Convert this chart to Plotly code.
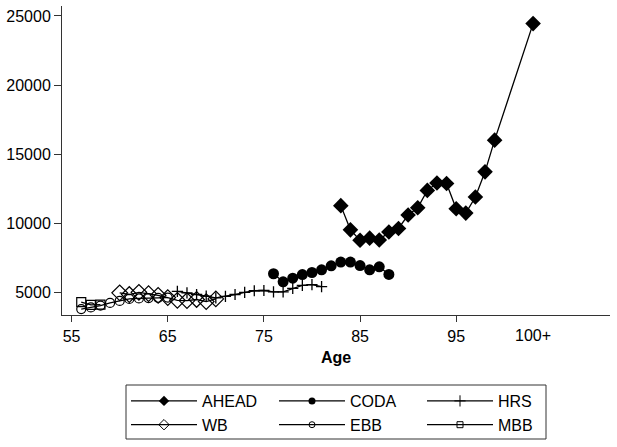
import plotly.graph_objects as go

# ---- data ----
ahead_age = [83, 84, 85, 86, 87, 88, 89, 90, 91, 92, 93, 94, 95, 96, 97, 98, 99, 103]
ahead_val = [11300, 9550, 8800, 8950, 8820, 9400, 9650, 10620, 11150, 12400, 12930, 12900,
             11080, 10760, 11920, 13740, 16030, 24450]

coda_age = [76, 77, 78, 79, 80, 81, 82, 83, 84, 85, 86, 87, 88]
coda_val = [6380, 5800, 6060, 6320, 6470, 6660, 6950, 7220, 7220, 6970, 6660, 6880, 6330]

hrs_age = [66, 67, 68, 69, 70, 71, 72, 73, 74, 75, 76, 77, 78, 79, 80, 81]
hrs_val = [5100, 5000, 4880, 4760, 4640, 4740, 4880, 5040, 5150, 5170, 5070, 5070, 5330, 5540, 5600, 5450]

wb_age = [60, 61, 62, 63, 64, 65, 66, 67, 68, 69, 70]
wb_val = [5000, 4880, 5040, 4940, 4820, 4660, 4460, 4440, 4520, 4370, 4560]

ebb_age = [56, 57, 58, 59, 60, 61, 62, 63, 64, 65]
ebb_val = [3830, 3950, 4080, 4270, 4420, 4560, 4600, 4620, 4640, 4660]

mbb_age = [56, 57, 58]
mbb_val = [4330, 4130, 4150]

x_tickvals = [55, 65, 75, 85, 95]
x_ticktext = ["55", "65", "75", "85", "95"]
top_age_pos = 103
top_age_label = "100+"
y_tickvals = [5000, 10000, 15000, 20000, 25000]
y_ticktext = ["5000", "10000", "15000", "20000", "25000"]

FONT = "Liberation Sans, Arial, Helvetica, sans-serif"

series = [
    ("AHEAD", ahead_age, ahead_val, dict(symbol="diamond", size=12), 8),
    ("CODA", coda_age, coda_val, dict(symbol="circle", size=11), 7),
    ("HRS", hrs_age, hrs_val, dict(symbol="cross-thin", size=8, line=dict(color="black", width=1.3)), 8),
    ("WB", wb_age, wb_val, dict(symbol="diamond-open", size=12, line=dict(color="black", width=1.2)), 8),
    ("EBB", ebb_age, ebb_val, dict(symbol="circle-open", size=9, line=dict(color="black", width=1.2)), 6),
    ("MBB", mbb_age, mbb_val, dict(symbol="square-open", size=9, line=dict(color="black", width=1.2)), 6),
]

fig = go.Figure()
for name, xs, ys, mk, legsize in series:
    fig.add_trace(go.Scatter(
        x=xs, y=ys, name=name, mode="lines+markers", showlegend=False,
        line=dict(color="black", width=1.3),
        marker=dict(color="black", **mk),
    ))
# legend entries with smaller symbols, as in the reference
for name, xs, ys, mk, legsize in series:
    lmk = dict(mk)
    lmk["size"] = legsize
    if "line" in lmk:
        lmk["line"] = dict(color="black", width=1)
    fig.add_trace(go.Scatter(
        x=[None], y=[None], name=name, mode="lines+markers", showlegend=True,
        line=dict(color="black", width=1.3),
        marker=dict(color="black", **lmk),
    ))

fig.update_layout(
    width=617, height=447,
    margin=dict(l=62, r=7, t=6, b=132),
    paper_bgcolor="white", plot_bgcolor="white",
    font=dict(family=FONT, size=16, color="black"),
    showlegend=True,
    legend=dict(
        orientation="h",
        xref="container", yref="container",
        x=126 / 617, y=1 - 384 / 447, xanchor="left", yanchor="top",
        borderwidth=0, bgcolor="rgba(0,0,0,0)",
        entrywidth=67, entrywidthmode="pixels",
        itemwidth=66,
        font=dict(family=FONT, size=16, color="black"),
        traceorder="normal",
    ),
    shapes=[dict(
        type="rect", xref="paper", yref="paper",
        x0=(126 - 62) / 548, x1=(546 - 62) / 548,
        y0=-(439 - 315) / 309, y1=-(385 - 315) / 309,
        line=dict(color="#333333", width=1), fillcolor="rgba(0,0,0,0)",
        layer="below",
    )],
    annotations=[dict(
        x=top_age_pos, y=0, xref="x", yref="paper",
        text=top_age_label, showarrow=False,
        xanchor="center", yanchor="top", yshift=-10,
        font=dict(family=FONT, size=16, color="black"),
    )],
)

fig.update_xaxes(
    range=[54, 111], tickvals=x_tickvals, ticktext=x_ticktext,
    showgrid=False, zeroline=False,
    showline=True, linecolor="#333333", linewidth=1,
    ticks="outside", ticklen=6, tickcolor="#333333",
    ticklabelstandoff=1,
    title=dict(text="<b>Age</b>", font=dict(family=FONT, size=16), standoff=7),
)
fig.update_yaxes(
    range=[3400, 25720], tickvals=y_tickvals, ticktext=y_ticktext,
    showgrid=False, zeroline=False,
    showline=True, linecolor="#333333", linewidth=1,
    ticks="outside", ticklen=7, tickcolor="#333333",
)

fig.write_html("out.html", config={"displayModeBar": False},
               post_script="document.body.style.margin='0';")
